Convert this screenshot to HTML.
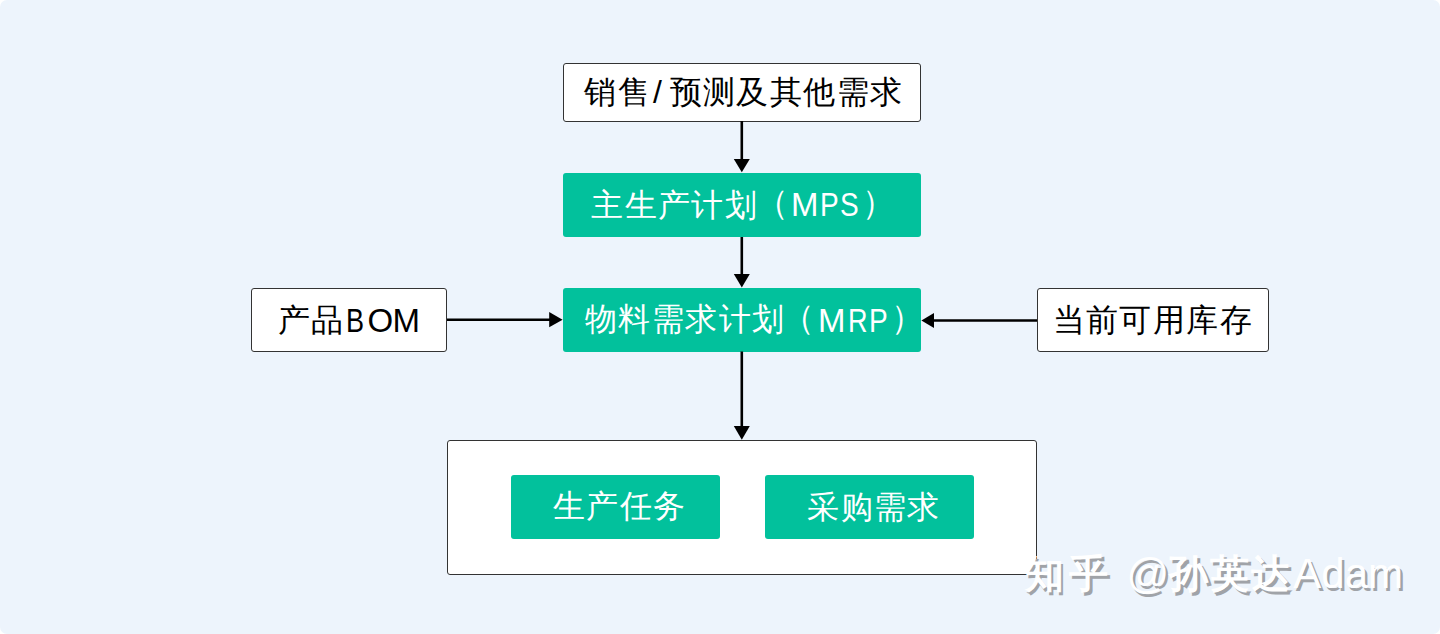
<!DOCTYPE html>
<html><head><meta charset="utf-8">
<style>
html,body{margin:0;padding:0;background:#fff;}
body{width:1440px;height:634px;position:relative;overflow:hidden;font-family:"Liberation Sans",sans-serif;}
#bg{position:absolute;left:0;top:0;width:1440px;height:634px;background:#EDF4FC;border-radius:7px;}
.bx{position:absolute;box-sizing:border-box;}
.w{background:#fff;border:1.5px solid #333;border-radius:3px;}
.g{background:#02C19C;border-radius:3px;}
svg{position:absolute;left:0;top:0;}
.t{position:absolute;white-space:nowrap;transform-origin:0 0;}
.k{color:#000;}
.wh{color:#fff;}
.wm{color:#fff;text-shadow:2.5px 2.5px 0 #A0A3A8;}
</style></head><body>
<div id="bg"></div>

<div class="bx w" style="left:563px;top:63px;width:358px;height:58.5px;"></div>
<div class="bx g" style="left:563px;top:172.5px;width:358px;height:64.5px;"></div>
<div class="bx g" style="left:563px;top:288px;width:358px;height:63.5px;"></div>
<div class="bx w" style="left:251px;top:288px;width:196px;height:64px;"></div>
<div class="bx w" style="left:1037px;top:287.5px;width:231.5px;height:64px;"></div>
<div class="bx w" style="left:446.5px;top:439.5px;width:590.5px;height:135px;"></div>
<div class="bx g" style="left:510.5px;top:475px;width:209.5px;height:64px;"></div>
<div class="bx g" style="left:764.5px;top:475px;width:209.5px;height:64px;"></div>


<svg width="1440" height="634" viewBox="0 0 1440 634">
<g stroke="#000" stroke-width="2.6" fill="none">
<line x1="741.8" y1="121" x2="741.8" y2="161"/>
<line x1="741.8" y1="237" x2="741.8" y2="276"/>
<line x1="741.8" y1="351.5" x2="741.8" y2="428"/>
<line x1="447" y1="319.7" x2="551" y2="319.7"/>
<line x1="1037" y1="320.5" x2="932" y2="320.5"/>
</g>
<g fill="#000">
<path d="M733.8 159 L749.8 159 L741.8 172.2 Z"/>
<path d="M733.8 274 L749.8 274 L741.8 287.6 Z"/>
<path d="M733.8 426 L749.8 426 L741.8 439.8 Z"/>
<path d="M549.2 312 L549.2 327.3 L562.6 319.7 Z"/>
<path d="M934 313 L934 328 L921.4 320.5 Z"/>
</g>
</svg>

<span id="a1" class="t k" style="left:584.2px;top:75.6px;font-size:32px;line-height:32px;letter-spacing:1.4px;">销售</span>
<span id="a2" class="t k" style="left:653.1px;top:75.6px;font-size:32px;line-height:32px;">/</span>
<span id="a3" class="t k" style="left:669.6px;top:75.6px;font-size:32px;line-height:32px;letter-spacing:1.4px;">预测及其他需求</span>
<span id="b1" class="t wh" style="left:591.2px;top:189.1px;font-size:32px;line-height:32px;letter-spacing:1.4px;">主生产计划</span>
<span id="b2" class="t wh" style="left:755.7px;top:186.3px;font-size:32px;line-height:32px;transform:scale(1,1.05);">（</span>
<span id="b3" class="t wh" style="left:790.9px;top:188.3px;font-size:33px;line-height:33px;">M</span>
<span id="b4" class="t wh" style="left:820.25px;top:188.3px;font-size:33px;line-height:33px;transform:scale(0.85,1);">P</span>
<span id="b5" class="t wh" style="left:840.0px;top:188.3px;font-size:33px;line-height:33px;transform:scale(0.85,1);">S</span>
<span id="b6" class="t wh" style="left:861.7px;top:186.3px;font-size:32px;line-height:32px;transform:scale(1,1.05);">）</span>
<span id="c1" class="t wh" style="left:585px;top:303px;font-size:32px;line-height:32px;letter-spacing:1.4px;">物料需求计划</span>
<span id="c2" class="t wh" style="left:782.3px;top:300.7px;font-size:32px;line-height:32px;transform:scale(1,1.05);">（</span>
<span id="c3" class="t wh" style="left:818.1px;top:303.9px;font-size:33px;line-height:33px;">M</span>
<span id="c4" class="t wh" style="left:847.54px;top:303.9px;font-size:33px;line-height:33px;transform:scale(0.82,1);">R</span>
<span id="c5" class="t wh" style="left:868.55px;top:303.9px;font-size:33px;line-height:33px;transform:scale(0.85,1);">P</span>
<span id="c6" class="t wh" style="left:890.5px;top:300.7px;font-size:32px;line-height:32px;transform:scale(1,1.05);">）</span>
<span id="d1" class="t k" style="left:278px;top:303.6px;font-size:32px;line-height:32px;letter-spacing:1.4px;">产品</span>
<span id="d2" class="t k" style="left:346.44px;top:303.9px;font-size:33px;line-height:33px;transform:scale(0.82,1);">B</span>
<span id="d3" class="t k" style="left:367.4px;top:303.9px;font-size:33px;line-height:33px;">O</span>
<span id="d4" class="t k" style="left:392.6px;top:303.9px;font-size:33px;line-height:33px;">M</span>
<span id="e1" class="t k" style="left:1052.7px;top:304px;font-size:32px;line-height:32px;letter-spacing:1.4px;">当前可用库存</span>
<span id="f1" class="t wh" style="left:552.9px;top:490.2px;font-size:32px;line-height:32px;letter-spacing:1.4px;">生产任务</span>
<span id="g1" class="t wh" style="left:807.3px;top:490.7px;font-size:32px;line-height:32px;letter-spacing:1.4px;">采购需求</span>
<span id="w1" class="t wm" style="left:1024.7px;top:554px;font-size:39px;line-height:39px;letter-spacing:5.7px;font-weight:700;">知乎 </span>
<span id="w2" class="t wm" style="left:1126.6px;top:552.5px;font-size:42px;line-height:42px;">@</span>
<span id="w3" class="t wm" style="left:1169px;top:554px;font-size:39px;line-height:39px;letter-spacing:2px;font-weight:700;">孙英达</span>
<span id="w4" class="t wm" style="left:1293.3px;top:552.5px;font-size:42px;line-height:42px;">Adam</span>
</body></html>
